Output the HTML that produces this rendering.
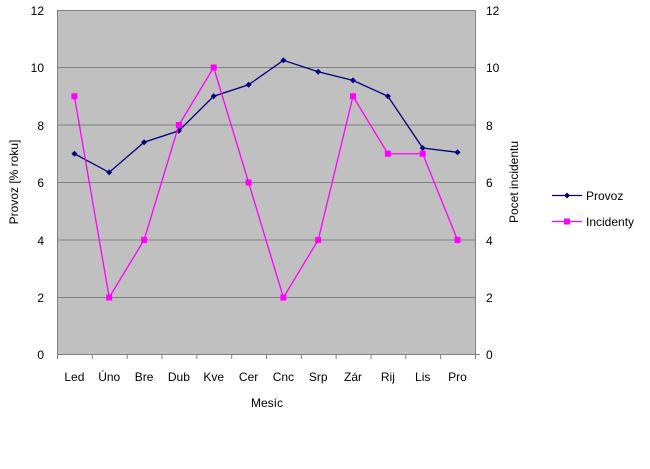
<!DOCTYPE html>
<html><head><meta charset="utf-8"><style>body{margin:0;background:#fff}svg{display:block}text{font-family:"Liberation Sans",sans-serif;font-size:12px;fill:#000}</style></head><body>
<svg width="650" height="469" viewBox="0 0 650 469">
<rect x="57.5" y="10.5" width="418" height="344" fill="#c0c0c0" stroke="#808080"/>
<g stroke="#808080" stroke-width="1">
<line x1="57" y1="67.5" x2="475" y2="67.5"/><line x1="57" y1="125" x2="475" y2="125"/><line x1="57" y1="182.5" x2="475" y2="182.5"/><line x1="57" y1="240" x2="475" y2="240"/><line x1="57" y1="297.5" x2="475" y2="297.5"/>
<line x1="57.5" y1="354" x2="57.5" y2="359"/><line x1="92.3" y1="354" x2="92.3" y2="359"/><line x1="127.2" y1="354" x2="127.2" y2="359"/><line x1="162" y1="354" x2="162" y2="359"/><line x1="196.8" y1="354" x2="196.8" y2="359"/><line x1="231.7" y1="354" x2="231.7" y2="359"/><line x1="266.5" y1="354" x2="266.5" y2="359"/><line x1="301.3" y1="354" x2="301.3" y2="359"/><line x1="336.1" y1="354" x2="336.1" y2="359"/><line x1="371" y1="354" x2="371" y2="359"/><line x1="405.8" y1="354" x2="405.8" y2="359"/><line x1="440.6" y1="354" x2="440.6" y2="359"/><line x1="475.5" y1="354" x2="475.5" y2="359"/>
<line x1="475" y1="354.5" x2="480" y2="354.5"/>
</g>
<g text-anchor="end"><text x="44" y="15">12</text><text x="44" y="72">10</text><text x="44" y="130">8</text><text x="44" y="187">6</text><text x="44" y="245">4</text><text x="44" y="302">2</text><text x="44" y="359">0</text></g>
<g text-anchor="start"><text x="486" y="15">12</text><text x="486" y="72">10</text><text x="486" y="130">8</text><text x="486" y="187">6</text><text x="486" y="245">4</text><text x="486" y="302">2</text><text x="486" y="359">0</text></g>
<g text-anchor="middle"><text x="74.4" y="381">Led</text><text x="109.2" y="381">Úno</text><text x="144.1" y="381">Bre</text><text x="178.9" y="381">Dub</text><text x="213.7" y="381">Kve</text><text x="248.6" y="381">Cer</text><text x="283.4" y="381">Cnc</text><text x="318.2" y="381">Srp</text><text x="353" y="381">Zár</text><text x="387.9" y="381">Rij</text><text x="422.7" y="381">Lis</text><text x="457.5" y="381">Pro</text>
<text x="267" y="407">Mesíc</text>
<text transform="translate(18,182) rotate(-90)">Provoz [% roku]</text>
<text transform="translate(518,182) rotate(-90)">Pocet incidentu</text></g>
<polyline fill="none" stroke="#000080" stroke-width="1.3" points="74.4,153.75 109.2,172.4 144.1,142.25 178.9,130.75 213.7,96.25 248.6,84.75 283.4,60.3 318.2,71.8 353,80.4 387.9,96.25 422.7,148 457.5,152.3"/>
<g fill="#000080"><path d="M74.4,150.75l3,3l-3,3l-3,-3z"/><path d="M109.2,169.4l3,3l-3,3l-3,-3z"/><path d="M144.1,139.25l3,3l-3,3l-3,-3z"/><path d="M178.9,127.75l3,3l-3,3l-3,-3z"/><path d="M213.7,93.25l3,3l-3,3l-3,-3z"/><path d="M248.6,81.75l3,3l-3,3l-3,-3z"/><path d="M283.4,57.3l3,3l-3,3l-3,-3z"/><path d="M318.2,68.8l3,3l-3,3l-3,-3z"/><path d="M353,77.4l3,3l-3,3l-3,-3z"/><path d="M387.9,93.25l3,3l-3,3l-3,-3z"/><path d="M422.7,145l3,3l-3,3l-3,-3z"/><path d="M457.5,149.3l3,3l-3,3l-3,-3z"/></g>
<polyline fill="none" stroke="#ff00ff" stroke-width="1.3" points="74.4,96.25 109.2,297.5 144.1,240 178.9,125 213.7,67.5 248.6,182.5 283.4,297.5 318.2,240 353,96.25 387.9,153.75 422.7,153.75 457.5,240"/>
<g fill="#ff00ff"><rect x="71.4" y="93.25" width="6" height="6"/><rect x="106.2" y="294.5" width="6" height="6"/><rect x="141.1" y="237" width="6" height="6"/><rect x="175.9" y="122" width="6" height="6"/><rect x="210.7" y="64.5" width="6" height="6"/><rect x="245.6" y="179.5" width="6" height="6"/><rect x="280.4" y="294.5" width="6" height="6"/><rect x="315.2" y="237" width="6" height="6"/><rect x="350" y="93.25" width="6" height="6"/><rect x="384.9" y="150.75" width="6" height="6"/><rect x="419.7" y="150.75" width="6" height="6"/><rect x="454.5" y="237" width="6" height="6"/></g>
<line x1="552" y1="195.5" x2="582" y2="195.5" stroke="#000080" stroke-width="1.3"/><path d="M567,192.5l3,3l-3,3l-3,-3z" fill="#000080"/>
<text x="586" y="200">Provoz</text>
<line x1="552" y1="221.5" x2="582" y2="221.5" stroke="#ff00ff" stroke-width="1.3"/><rect x="564" y="218.5" width="6" height="6" fill="#ff00ff"/>
<text x="586" y="226">Incidenty</text>
</svg>
</body></html>
